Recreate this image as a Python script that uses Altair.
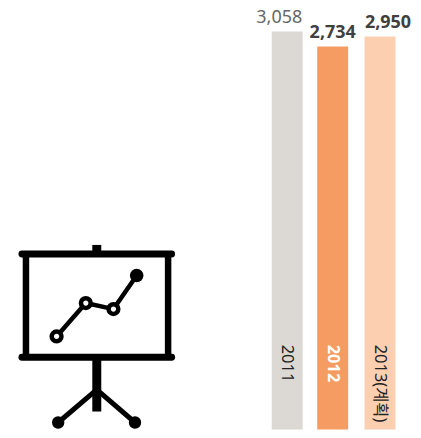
import altair as alt
import pandas as pd

# Bars
years = ["2011", "2012", "2013(계획)"]
year_pos = [0, 1, 2]
values = [3058, 2734, 2950]
value_labels = ["3,058", "2,734", "2,950"]
bar_colors = ["#dcd8d4", "#f59c63", "#fbcfb0"]
label_colors = ["#666666", "#404040", "#404040"]
year_colors = ["#222222", "#ffffff", "#222222"]
label_weights = ["normal", "bold", "bold"]
label_dx = [-8, 0, 8]
bar_base = -5560

# Icon, in page pixels
frame_seg = [0, 0, 1, 1]
frame_x = [21, 171, 21, 171]
frame_y = [254, 254, 357.5, 357.5]
side_seg = [0, 0, 1, 1]
side_x = [25, 25, 167.5, 167.5]
side_y = [254, 357.5, 254, 357.5]
pole_seg = [0, 0, 1, 1]
pole_x = [96, 96, 96, 96]
pole_y = [245, 254, 357.5, 412]
leg_seg = [0, 0, 1, 1]
leg_x = [96, 57.3, 96, 134.3]
leg_y = [390, 423, 390, 423]
foot_x = [57.3, 134.3]
foot_y = [423, 423]
trend_x = [55.7, 85, 112.7, 136]
trend_y = [336.7, 303.3, 309.3, 275.7]

bars = pd.DataFrame({"year": years, "pos": year_pos, "value": values, "label": value_labels,
                     "base": [bar_base] * 3, "c": bar_colors, "lc": label_colors,
                     "yc": year_colors, "w": label_weights})

px = alt.Scale(domain=[8, 413], range=[0, 405], nice=False, zero=False)
py = alt.Scale(domain=[8, 430], range=[0, 422], nice=False, zero=False)
X = alt.X("x:Q", scale=px, axis=None)
Y = alt.Y("y:Q", scale=py, axis=None)

bx = alt.X("pos:Q", axis=None, scale=alt.Scale(domain=year_pos, range=[274, 324.5, 377], nice=False, zero=False))
by = alt.Y("value:Q", axis=None, scale=alt.Scale(domain=[bar_base, 3555], range=[422, 0], nice=False, zero=False))
FONT = "Noto Sans, Noto Sans CJK KR"

bar_layer = alt.Chart(bars).mark_bar(width=31).encode(
    x=bx, y=by, y2="base:Q", color=alt.Color("c:N", scale=None))

value_layers = [
    alt.Chart(bars.iloc[[i]]).mark_text(
        font=FONT, fontSize=18, fontWeight=label_weights[i],
        baseline="alphabetic", dy=-8, dx=label_dx[i]
    ).encode(x=bx, y=by, text="label:N", color=alt.Color("lc:N", scale=None))
    for i in range(3)
]


def year_text(weight, size, data):
    return alt.Chart(data).mark_text(
        font=FONT, fontSize=size, fontWeight=weight, angle=90, align="left", baseline="middle"
    ).encode(x=bx, y=alt.value(337), text="year:N", color=alt.Color("yc:N", scale=None))


def segs(xs, ys, ids, width, cap):
    df = pd.DataFrame({"x": xs, "y": ys, "s": ids})
    return alt.Chart(df).mark_line(color="#000000", strokeWidth=width, strokeCap=cap).encode(
        x=X, y=Y, detail="s:N", order=alt.Order("y:Q"))


trend = pd.DataFrame({"x": trend_x, "y": trend_y, "i": range(4)})
trend_line = alt.Chart(trend).mark_line(color="#000000", strokeWidth=4.5).encode(
    x=X, y=Y, order="i:Q")
open_pts = alt.Chart(trend.iloc[:3]).mark_point(
    filled=True, fill="#ffffff", stroke="#000000", strokeWidth=4.5, opacity=1, size=95
).encode(x=X, y=Y)
solid_pts = alt.Chart(trend.iloc[3:]).mark_circle(color="#000000", opacity=1, size=184).encode(x=X, y=Y)
feet = alt.Chart(pd.DataFrame({"x": foot_x, "y": foot_y})).mark_circle(
    color="#000000", opacity=1, size=154).encode(x=X, y=Y)

icon = alt.layer(
    segs(side_x, side_y, side_seg, 6.5, "butt"),
    segs(frame_x, frame_y, frame_seg, 7, "round"),
    segs(pole_x, pole_y, pole_seg, 9, "butt"),
    segs(leg_x, leg_y, leg_seg, 5, "butt"),
    feet, trend_line, open_pts, solid_pts,
)

bar_part = alt.layer(
    bar_layer,
    *value_layers,
    year_text("normal", 16.5, bars[bars.year != "2012"]),
    year_text("bold", 16.5, bars[bars.year == "2012"]),
)

chart = alt.layer(icon, bar_part).resolve_scale(x="independent", y="independent").properties(
    width=405, height=422, padding=0
).configure_view(stroke=None)

chart.save("out.html", embed_options={"renderer": "svg", "actions": False})
